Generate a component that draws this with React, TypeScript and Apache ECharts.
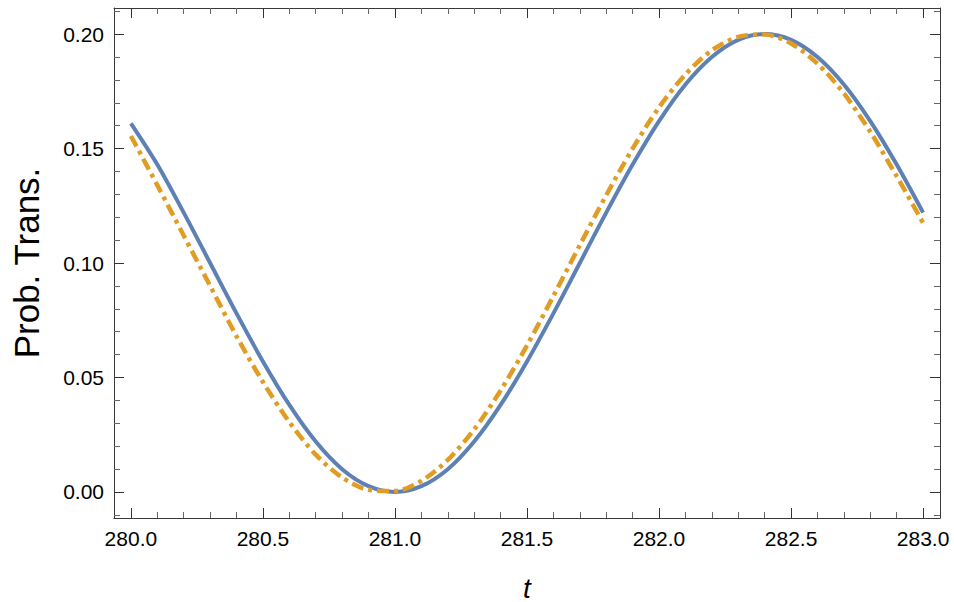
import React, { useEffect, useRef } from "react";
import * as echarts from "echarts";

const tValues = [
  280.0, 280.1, 280.2, 280.3, 280.4, 280.5, 280.6, 280.7, 280.8, 280.9,
  281.0, 281.1, 281.2, 281.3, 281.4, 281.5, 281.6, 281.7, 281.8, 281.9,
  282.0, 282.1, 282.2, 282.3, 282.4, 282.5, 282.6, 282.7, 282.8, 282.9, 283.0,
];
const blueValues = [
  0.161, 0.143, 0.122, 0.1, 0.078, 0.057, 0.038, 0.022, 0.0099, 0.0025,
  0.0, 0.0025, 0.0099, 0.022, 0.038, 0.057, 0.078, 0.1, 0.122, 0.143,
  0.162, 0.178, 0.19, 0.1975, 0.2, 0.1975, 0.19, 0.178, 0.162, 0.143, 0.122,
];
const orangeValues = [
  0.1555, 0.134, 0.112, 0.09, 0.068, 0.048, 0.0305, 0.0163, 0.0063, 0.0009,
  0.0004, 0.0048, 0.014, 0.0273, 0.0443, 0.064, 0.0856, 0.1078, 0.1296, 0.15,
  0.168, 0.1824, 0.1929, 0.1988, 0.1998, 0.1959, 0.1871, 0.1741, 0.1573, 0.1379, 0.1175,
];
const xMajorTicks = [280.0, 280.5, 281.0, 281.5, 282.0, 282.5, 283.0];
const xMinorTicks = [
  280.1, 280.2, 280.3, 280.4, 280.6, 280.7, 280.8, 280.9,
  281.1, 281.2, 281.3, 281.4, 281.6, 281.7, 281.8, 281.9,
  282.1, 282.2, 282.3, 282.4, 282.6, 282.7, 282.8, 282.9,
];
const yMajorTicks = [0.0, 0.05, 0.1, 0.15, 0.2];
const yMinorTicks = [
  -0.01, 0.01, 0.02, 0.03, 0.04, 0.06, 0.07, 0.08, 0.09,
  0.11, 0.12, 0.13, 0.14, 0.16, 0.17, 0.18, 0.19, 0.21,
];

const X_MIN = 279.936;
const X_MAX = 283.064;
const Y_MIN = -0.0114;
const Y_MAX = 0.2114;

const FONT = "'Liberation Sans', Arial, sans-serif";
const FRAME = "#3a3a3a";

function makeX(position: "bottom" | "top", major: boolean, withLabels: boolean, name?: string) {
  return {
    type: "value",
    position,
    min: X_MIN,
    max: X_MAX,
    name: name ?? "",
    nameLocation: "middle",
    nameGap: 56,
    nameTextStyle: { fontFamily: FONT, fontSize: 28, fontStyle: "italic", color: "#000" },
    axisLine: { show: major, onZero: false, lineStyle: { color: FRAME, width: 1 } },
    axisTick: {
      show: true,
      inside: true,
      length: major ? 10 : 6,
      customValues: major ? xMajorTicks : xMinorTicks,
      lineStyle: { color: major ? "#333" : "#666", width: 1 },
    },
    axisLabel: {
      show: withLabels,
      customValues: xMajorTicks,
      margin: 10,
      fontFamily: FONT,
      fontSize: 21,
      color: "#000",
      formatter: (v: number) => v.toFixed(1),
    },
    splitLine: { show: false },
  };
}

function makeY(position: "left" | "right", major: boolean, withLabels: boolean, name?: string) {
  return {
    type: "value",
    position,
    min: Y_MIN,
    max: Y_MAX,
    name: name ?? "",
    nameLocation: "middle",
    nameGap: 70,
    nameRotate: 90,
    nameTextStyle: { fontFamily: FONT, fontSize: 35, color: "#000" },
    axisLine: { show: major, onZero: false, lineStyle: { color: FRAME, width: 1 } },
    axisTick: {
      show: true,
      inside: true,
      length: major ? 10 : 6,
      customValues: major ? yMajorTicks : yMinorTicks,
      lineStyle: { color: major ? "#333" : "#666", width: 1 },
    },
    axisLabel: {
      show: withLabels,
      customValues: yMajorTicks,
      margin: 10,
      fontFamily: FONT,
      fontSize: 21,
      color: "#000",
      formatter: (v: number) => v.toFixed(2),
    },
    splitLine: { show: false },
  };
}

export default function App() {
  const ref = useRef<HTMLDivElement>(null);
  useEffect(() => {
    if (!ref.current) return;
    const chart = echarts.init(ref.current, null, { renderer: "svg" });
    const blueData = tValues.map((t, i) => [t, blueValues[i]]);
    const orangeData = tValues.map((t, i) => [t, orangeValues[i]]);
    chart.setOption({
      animation: false,
      backgroundColor: "#fff",
      grid: {
        left: 114,
        right: 14,
        top: 8,
        bottom: 84,
        containLabel: false,
        outerBoundsMode: "none",
      },
      xAxis: [
        makeX("bottom", true, true, "t"),
        makeX("bottom", false, false),
        makeX("top", true, false),
        makeX("top", false, false),
      ],
      yAxis: [
        makeY("left", true, true, "Prob. Trans."),
        makeY("left", false, false),
        makeY("right", true, false),
        makeY("right", false, false),
      ],
      series: [
        {
          type: "line",
          xAxisIndex: 0,
          yAxisIndex: 0,
          data: blueData,
          smooth: 0.3,
          showSymbol: false,
          lineStyle: { color: "#5E81B5", width: 4 },
        },
        {
          type: "line",
          xAxisIndex: 0,
          yAxisIndex: 0,
          data: orangeData,
          smooth: 0.3,
          showSymbol: false,
          lineStyle: { color: "#E19C24", width: 4.5, type: [12, 5, 4, 5] },
        },
      ],
    });
    return () => chart.dispose();
  }, []);
  return (
    <div
      ref={ref}
      style={{ position: "fixed", left: 0, top: 0, width: 954, height: 602, background: "#fff" }}
    />
  );
}
